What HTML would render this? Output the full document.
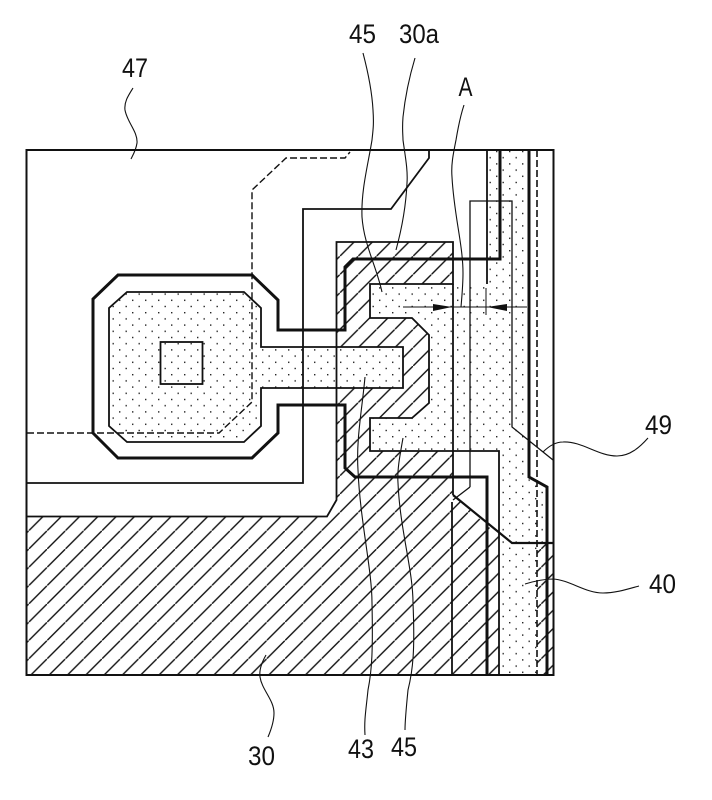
<!DOCTYPE html>
<html><head><meta charset="utf-8"><style>html,body{margin:0;padding:0;background:#fff}svg{display:block}text{font-family:"Liberation Sans",sans-serif;font-size:27px;fill:#111}</style></head><body>
<svg width="712" height="800" viewBox="0 0 712 800" xmlns="http://www.w3.org/2000/svg">
<defs>
<pattern id="h" width="18.3" height="18.3" patternUnits="userSpaceOnUse" patternTransform="translate(10.5,0)">
<path d="M-2,20.3 L20.3,-2" stroke="#111" stroke-width="1.4" fill="none"/>
</pattern>
<pattern id="d" width="13" height="12.4" patternUnits="userSpaceOnUse">
<g fill="#222"><rect x="2" y="2" width="1.4" height="1.4"/><rect x="8.5" y="8.2" width="1.4" height="1.4"/></g>
</pattern>
</defs>
<rect width="712" height="800" fill="#fff"/>

<!-- hatch -->
<path d="M26,516 H327 L337,500 V242 H453 V284 H370 V318 H412 L429,335 V403 L412,418 H370 V451 H453 V495 L499,536 V675 H26 Z" fill="url(#h)"/>
<rect x="537" y="543" width="16" height="132" fill="url(#h)"/>

<!-- dotted areas -->
<path d="M487,150 H529 V477 L547,487 V543 H537 V675 H499 V451 H370 V418 H412 L429,403 V335 L412,318 H370 V284 H487 Z" fill="url(#d)"/>
<path d="M127,292 H244 L261,308 V347 H403 V388 H261 V426 L244,442 H127 L109,426 V308 Z" fill="#fff"/>
<path d="M127,292 H244 L261,308 V347 H403 V388 H261 V426 L244,442 H127 L109,426 V308 Z" fill="url(#d)"/>

<g fill="none" stroke="#111" stroke-linejoin="miter">
<!-- frame -->
<rect x="26.5" y="150" width="527" height="525" stroke-width="2"/>

<!-- medium outlines -->
<g stroke-width="1.8">
<path d="M27,516.5 H327 L336.5,500 V242 H453 V284 H370 V318 H412 L429,335 V403 L412,418 H370 V451 H499 V675"/>
<path d="M487,150 V284"/>
<path d="M429,150 V158 L391,209 H303 V483 H27"/>
<path d="M127,292 H244 L261,308 V347 H403 V388 H261 V426 L244,442 H127 L109,426 V308 Z"/>
<rect x="160.5" y="342" width="42" height="42"/>
<path d="M453,284 V495"/>
<path d="M452,502 V675"/>
<path d="M470,487 V201 H512 V427 L553,460" stroke-width="1.3"/>
<path d="M470,487 L453,500" stroke-width="1.3"/>
</g>
<path d="M453,495 L512,543 H553" stroke-width="2.2"/>

<!-- thick outlines -->
<g stroke-width="3">
<path d="M500,150 V259 H353 L345,267 V330 H278 V300 L252,275 H118 L93,299 V433 L118,458 H252 L278,433 V405 H345 V468 L355,477 H487 V675"/>
<path d="M529,150 V477 L547,487 V675"/>
</g>

<!-- dashed -->
<path d="M537,150 V675" stroke-width="1.6" stroke-dasharray="7 3"/>
<path d="M27,433 H219 L252,402 V190 L286,158 H345 L350,152" stroke-width="1.4" stroke-dasharray="7 3"/>

<!-- dimension -->
<path d="M403,307 H527" stroke-width="1"/>
<path d="M486,288 V315" stroke-width="1"/>

<!-- leaders -->
<g stroke-width="1.1">
<path d="M133,88 C128,96 124,102 125,110 C127,122 138,132 137,143 C136,150 133,155 131,159"/>
<path d="M363,53 C368,72 372,92 373,110 C374,125 373,130 372,140 C368,165 361,190 362,217 C364,245 376,265 382,292"/>
<path d="M415,58 C409,78 405,98 403,117 C402,130 403,135 403,140 C405,155 408,170 407,183 C406,205 402,228 396,250"/>
<path d="M464,105 C461,114 458,128 456,140 C453,155 451,165 452,177 C454,215 463,245 463,273 C463,285 462,295 461,307"/>
<path d="M365,377 C362,410 356,440 358,470 C360,520 372,570 372,603 C373,650 372,670 368,690 C366,710 364,720 365,735"/>
<path d="M403,438 C400,455 397,470 398,483 C400,530 413,570 413,603 C415,650 413,670 408,690 C406,710 405,720 405,730"/>
<path d="M266,655 C262,662 259,670 260,677 C262,690 274,700 274,713 C274,722 271,730 268,737"/>
<path d="M543,452 C548,447 555,442 563,442 C582,441 598,456 617,456 C630,456 640,447 648,438"/>
<path d="M525,584 C535,581 545,579 553,579 C570,580 585,593 603,593 C616,593 628,589 639,586"/>
</g>
</g>

<!-- arrowheads -->
<path d="M433,304 L452,307 L433,311 Z" fill="#111"/>
<path d="M507,304 L487,307 L507,311 Z" fill="#111"/>

<!-- labels -->
<text x="122" y="77" textLength="26" lengthAdjust="spacingAndGlyphs">47</text>
<text x="349" y="43" textLength="27" lengthAdjust="spacingAndGlyphs">45</text>
<text x="399" y="43" textLength="40" lengthAdjust="spacingAndGlyphs">30a</text>
<text x="458.5" y="96" textLength="14" lengthAdjust="spacingAndGlyphs">A</text>
<text x="645" y="434" textLength="27" lengthAdjust="spacingAndGlyphs">49</text>
<text x="649" y="593" textLength="27" lengthAdjust="spacingAndGlyphs">40</text>
<text x="248" y="765" textLength="27" lengthAdjust="spacingAndGlyphs">30</text>
<text x="348" y="758" textLength="26" lengthAdjust="spacingAndGlyphs">43</text>
<text x="391" y="756" textLength="26" lengthAdjust="spacingAndGlyphs">45</text>
</svg>
</body></html>
